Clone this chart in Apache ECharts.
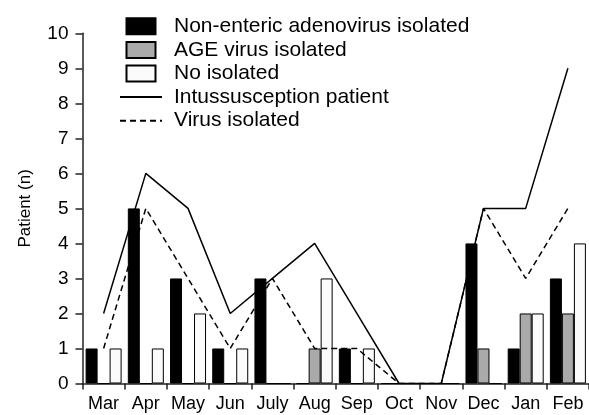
<!DOCTYPE html>
<html style="height: 100%">
   <head>
       <meta charset="utf-8">
   </head>
   <body style="height: 100%; margin: 0; background: #fff">
       <div id="container" style="width: 589px; height: 415px"></div>
       <script type="text/javascript" src="https://cdn.jsdelivr.net/npm/echarts@6/dist/echarts.min.js"></script>
       <script type="text/javascript">
var months = ['Mar', 'Apr', 'May', 'Jun', 'July', 'Aug', 'Sep', 'Oct', 'Nov', 'Dec', 'Jan', 'Feb'];

// bars
var nonEnteric = [1, 5, 3, 1, 3, 0, 1, 0, 0, 4, 1, 3];
var ageVirus   = [0, 0, 0, 0, 0, 1, 0, 0, 0, 1, 2, 2];
var noIsolated = [1, 1, 2, 1, 0, 3, 1, 0, 0, 0, 2, 4];

// lines
var intussusception = [2, 6, 5, 2, 3, 4, 2, 0, 0, 5, 5, 9];
var virusIsolated   = [1, 5, 3, 1, 3, 1, 1, 0, 0, 5, 3, 5];

var yTicks = [0, 10, 1];  // min, max, interval

var font = "'Liberation Sans', Arial, sans-serif";
var dom = document.getElementById("container");
var myChart = echarts.init(dom);

function barSeries(name, data, fill) {
    return {
        type: 'bar',
        name: name,
        data: data,
        barWidth: 12,
        barGap: '0%',
        itemStyle: {
            color: fill,
            borderColor: '#000',
            borderWidth: 1
        }
    };
}

function lineSeries(name, data, dash) {
    return {
        type: 'line',
        name: name,
        data: data,
        symbol: 'none',
        z: 3,
        itemStyle: { color: 'rgba(0,0,0,0)' },
        lineStyle: {
            color: '#000',
            width: 1.5,
            type: dash ? [6, 4] : 'solid'
        }
    };
}

var barIcon = 'path://M0,0H29V16H0Z';

var option = {
    animation: false,
    textStyle: { fontFamily: font },
    legend: {
        left: 119,
        top: 14.5,
        padding: 0,
        orient: 'vertical',
        itemWidth: 42,
        itemHeight: 16,
        itemGap: 0,
        selectedMode: false,
        symbolKeepAspect: true,
        textStyle: {
            fontSize: 21,
            fontFamily: font,
            color: '#000',
            lineHeight: 23.6,
            padding: [0, 0, 0, 7]
        },
        data: [
            { name: 'Non-enteric adenovirus isolated', icon: barIcon },
            { name: 'AGE virus isolated', icon: barIcon },
            { name: 'No isolated', icon: barIcon },
            { name: 'Intussusception patient', itemStyle: { opacity: 0 } },
            { name: 'Virus isolated', itemStyle: { opacity: 0 } }
        ]
    },
    grid: {
        left: 82.5,
        top: 33.3,
        width: 515,
        bottom: 31.5
    },
    xAxis: {
        type: 'category',
        data: months,
        boundaryGap: true,
        axisLine: { lineStyle: { color: '#222', width: 1.5 } },
        axisTick: { show: true, length: 6, lineStyle: { color: '#222', width: 1.5 } },
        axisLabel: { fontSize: 18, color: '#000', margin: 12, fontFamily: font, interval: 0 }
    },
    yAxis: {
        type: 'value',
        min: yTicks[0],
        max: yTicks[1],
        interval: yTicks[2],
        name: 'Patient (n)',
        nameLocation: 'middle',
        nameGap: 49,
        nameTextStyle: { fontSize: 17, color: '#000', fontFamily: font },
        axisLine: { show: true, lineStyle: { color: '#222', width: 1.5 } },
        axisTick: { show: true, length: 7, lineStyle: { color: '#222', width: 1.5 } },
        axisLabel: { fontSize: 19, color: '#000', margin: 14, fontFamily: font },
        splitLine: { show: false }
    },
    series: [
        barSeries('Non-enteric adenovirus isolated', nonEnteric, '#000'),
        barSeries('AGE virus isolated', ageVirus, '#aaaaaa'),
        barSeries('No isolated', noIsolated, '#fbfbfb'),
        lineSeries('Intussusception patient', intussusception, false),
        lineSeries('Virus isolated', virusIsolated, true)
    ]
};

myChart.setOption(option);
       </script>
   </body>
</html>
